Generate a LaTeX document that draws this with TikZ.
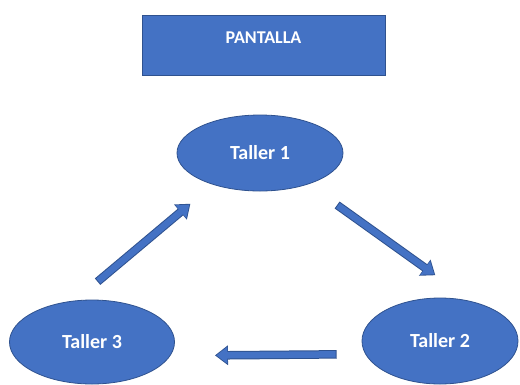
\documentclass[tikz,border=0pt]{standalone}
\usepackage{fontspec}
\setmainfont{Carlito}
\usetikzlibrary{shapes.geometric,arrows.meta}

\definecolor{officeblue}{RGB}{68,114,196}
\definecolor{officeedge}{RGB}{47,82,143}

\tikzset{
	box/.style={draw=officeedge,fill=officeblue,line width=0.8pt,inner sep=0,outer sep=0,text=white,font=\fontsize{18}{22}\selectfont\bfseries},
	taller/.style={box,ellipse,font=\fontsize{20}{24}\selectfont\bfseries},
	flowout/.style={line width=8.5pt,draw=officeedge,-{Triangle[length=13pt,width=19pt]}},
	flowin/.style={line width=6.5pt,draw=officeblue,-{Triangle[length=11pt,width=16pt]}}
}

% block arrow: from, to, shorten at start, shorten at end
\newcommand{\blockarrow}[4]{%
	\draw[flowout,shorten <=#3,shorten >=#4] (#1) -- (#2);
	\draw[flowin,shorten <=#3+1pt,shorten >=#4+1.4pt] (#1) -- (#2);
}

\begin{document}
\begin{tikzpicture}[x=1pt,y=-1pt]
	\useasboundingbox (0,0) rectangle (520,384);
	\node[box,minimum width=243pt,minimum height=60pt,text depth=14pt] (0) at (263.5,45) {PANTALLA};
	\node[taller,minimum width=166pt,minimum height=76pt] (1) at (260,153) {Taller 1};
	\node[taller,minimum width=156pt,minimum height=86pt] (2) at (440,341) {Taller 2};
	\node[taller,minimum width=165pt,minimum height=84pt] (3) at (92,342) {Taller 3};
	\blockarrow{3.113}{1.214}{30pt}{30pt}
	\blockarrow{1.327}{2.50}{36pt}{46pt}
	\blockarrow{2.190.7}{3.350.6}{29pt}{45pt}
\end{tikzpicture}
\end{document}
